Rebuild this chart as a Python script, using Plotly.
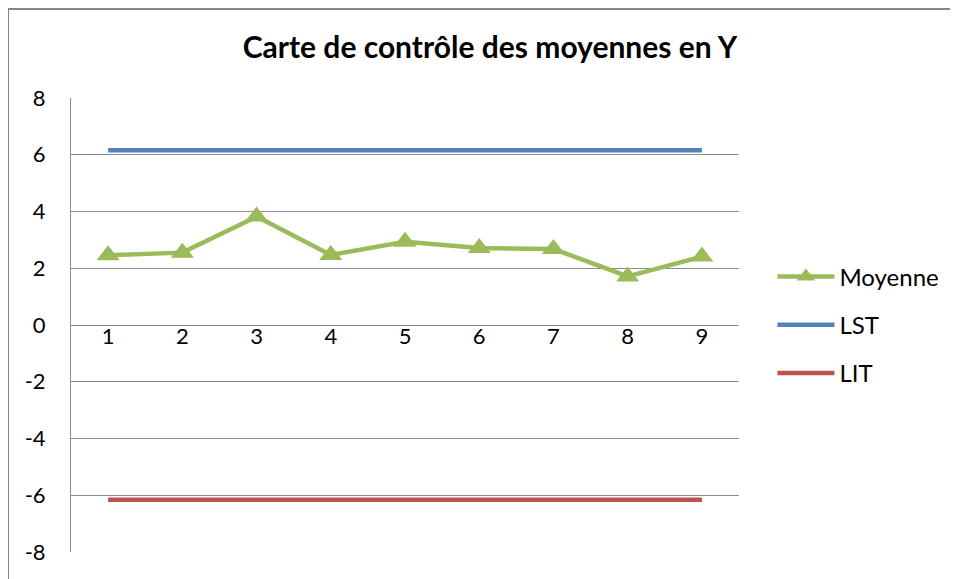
import plotly.graph_objects as go

_FONT = "Lato, 'Open Sans', sans-serif"
_GRID = "#8c8c8c"
_TEXT = "#000000"

samples = ["1", "2", "3", "4", "5", "6", "7", "8", "9"]
moyenne = [2.46, 2.55, 3.82, 2.47, 2.93, 2.71, 2.68, 1.71, 2.41]
lst = [6.16] * 9
lit = [-6.16] * 9

y_ticks = [-8, -6, -4, -2, 0, 2, 4, 6, 8]
y_labels = ["-8", "-6", "-4", "-2", "0", "2", "4", "6", "8"]

fig = go.Figure()

fig.add_trace(
    go.Scatter(
        x=samples,
        y=moyenne,
        name="Moyenne",
        mode="lines+markers",
        line=dict(color="#9bbb59", width=4.5),
        marker=dict(symbol="triangle-up", size=20, color="#9bbb59"),
        legendgroup="m",
    )
)
fig.add_trace(
    go.Scatter(
        x=samples,
        y=lst,
        name="LST",
        mode="lines",
        line=dict(color="#4f81bd", width=4.5),
        legendgroup="s",
    )
)
fig.add_trace(
    go.Scatter(
        x=samples,
        y=lit,
        name="LIT",
        mode="lines",
        line=dict(color="#c0504d", width=4.5),
        legendgroup="i",
    )
)

# the page has an 8px body margin, so the figure is laid out 8px up/left
fig.update_layout(
    width=958,
    height=579,
    paper_bgcolor="#ffffff",
    plot_bgcolor="#ffffff",
    font=dict(family=_FONT, size=22, color=_TEXT),
    margin=dict(l=63, r=227, t=90, b=35),
    title=dict(
        text="<b>Carte de contrôle des moyennes en Y</b>",
        font=dict(size=30, color=_TEXT),
        xref="container",
        yref="container",
        x=482 / 958,
        y=1 - 39 / 579,
        xanchor="center",
        yanchor="middle",
    ),
    showlegend=True,
    legend=dict(
        x=1.05,
        y=0.5,
        xanchor="left",
        yanchor="middle",
        font=dict(size=24, color=_TEXT),
        traceorder="grouped",
        tracegroupgap=14,
        itemwidth=57,
        bgcolor="rgba(0,0,0,0)",
    ),
    xaxis=dict(
        type="category",
        showgrid=False,
        zeroline=False,
        showline=False,
        anchor="free",
        position=0.5 + 4 / 454,
        ticks="",
        ticklabelstandoff=0,
        tickfont=dict(size=22, color=_TEXT),
        range=[-0.5, 8.5],
    ),
    yaxis=dict(
        range=[-8, 8],
        tickvals=y_ticks,
        ticktext=y_labels,
        showgrid=True,
        gridcolor=_GRID,
        gridwidth=1,
        zeroline=False,
        showline=True,
        linecolor=_GRID,
        linewidth=1,
        ticks="",
        ticklabelstandoff=20,
        tickfont=dict(size=22, color=_TEXT),
    ),
)

# chart frame (outer border of the Excel chart object)
fig.add_shape(
    type="rect",
    xref="paper",
    yref="paper",
    x0=(0 - 63) / 668,
    x1=(975 - 63) / 668,
    y0=(544 - 600) / 454,
    y1=(544 - 1) / 454,
    line=dict(color="#868686", width=2),
    fillcolor="rgba(0,0,0,0)",
    layer="below",
)

fig.write_html("out.html")
